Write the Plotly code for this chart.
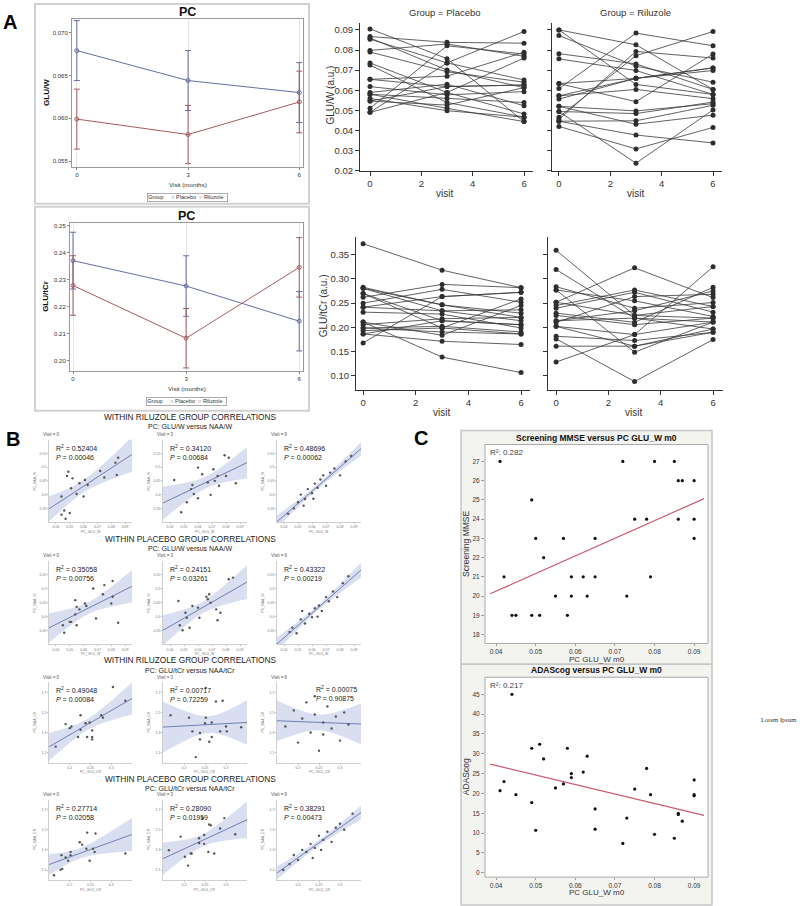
import numpy as np
import plotly.graph_objects as go

W, H = 800, 906
SANS = "Arial, Liberation Sans, Helvetica, sans-serif"
BLUE = "#646ea8"
RED = "#a65a60"

# ---------------- A (left): group means +/- SE
months = [0, 3, 6]
gluw_mean_placebo = [0.0679, 0.0644, 0.0630]
gluw_se_placebo = [0.0035, 0.0035, 0.0035]
gluw_mean_riluzole = [0.0599, 0.0581, 0.0619]
gluw_se_riluzole = [0.0035, 0.0034, 0.0036]
glutcr_mean_placebo = [0.2371, 0.2277, 0.2147]
glutcr_se_placebo = [0.0105, 0.0112, 0.0110]
glutcr_mean_riluzole = [0.2279, 0.2084, 0.2346]
glutcr_se_riluzole = [0.0110, 0.0110, 0.0110]

# ---------------- A (right): individual subjects at visit 0, 3, 6
visits = [0, 3, 6]
plc_gluw_v0 = [0.0905, 0.0867, 0.0854, 0.0860, 0.0798, 0.0790, 0.0736, 0.0725, 0.0654, 0.0654,
               0.0618, 0.0589, 0.0580, 0.0580, 0.0559, 0.0546, 0.0510, 0.0490, 0.0490, 0.0546]
plc_gluw_v3 = [0.0757, 0.0838, 0.0736, 0.0700, 0.0830, 0.0692, 0.0589, 0.0539, 0.0670, 0.0618,
               0.0577, 0.0630, 0.0559, 0.0510, 0.0498, 0.0526, 0.0821, 0.0736, 0.0589, 0.0618]
plc_gluw_v6 = [0.0444, 0.0834, 0.0651, 0.0613, 0.0769, 0.0640, 0.0482, 0.0466, 0.0789, 0.0626,
               0.0593, 0.0523, 0.0539, 0.0444, 0.0466, 0.0613, 0.0780, 0.0892, 0.0760, 0.0626]

ril_gluw_v0 = [0.0900, 0.0900, 0.0872, 0.0782, 0.0756, 0.0633, 0.0608, 0.0572, 0.0556, 0.0520,
               0.0494, 0.0466, 0.0455, 0.0446, 0.0420, 0.0446, 0.0494, 0.0520, 0.0633, 0.0572]
ril_gluw_v3 = [0.0826, 0.0629, 0.0720, 0.0731, 0.0698, 0.0659, 0.0884, 0.0659, 0.0659, 0.0497,
               0.0484, 0.0772, 0.0793, 0.0448, 0.0308, 0.0377, 0.0237, 0.0431, 0.0543, 0.0604]
ril_gluw_v6 = [0.0604, 0.0579, 0.0640, 0.0604, 0.0579, 0.0711, 0.0821, 0.0698, 0.0711, 0.0533,
               0.0541, 0.0892, 0.0760, 0.0525, 0.0415, 0.0338, 0.0502, 0.0476, 0.0780, 0.0558]

plc_glutcr_v0 = [0.3725, 0.2826, 0.2805, 0.2805, 0.2700, 0.2620, 0.2500, 0.2417, 0.2417, 0.2315,
                 0.2110, 0.2110, 0.2056, 0.1988, 0.1933, 0.1865, 0.1865, 0.1680, 0.1988, 0.2700]
plc_glutcr_v3 = [0.3180, 0.2465, 0.2342, 0.2465, 0.2137, 0.2887, 0.2785, 0.2635, 0.2342, 0.2274,
                 0.1838, 0.1388, 0.2179, 0.2022, 0.1988, 0.1715, 0.2137, 0.2635, 0.1906, 0.1988]
plc_glutcr_v6 = [0.2819, 0.2206, 0.2137, 0.2294, 0.2056, 0.2819, 0.2519, 0.2723, 0.2362, 0.1988,
                 0.2451, 0.1068, 0.2206, 0.1906, 0.1865, 0.1647, 0.2056, 0.2723, 0.1865, 0.2587]

ril_glutcr_v0 = [0.3589, 0.3193, 0.2839, 0.2771, 0.2519, 0.2451, 0.2396, 0.2294, 0.2247, 0.2137,
                 0.2104, 0.2022, 0.1817, 0.1763, 0.1613, 0.1286, 0.2771, 0.2519, 0.2137, 0.2022]
ril_glutcr_v3 = [0.2247, 0.2192, 0.2396, 0.2547, 0.3228, 0.2771, 0.2723, 0.2104, 0.2056, 0.2342,
                 0.2635, 0.1852, 0.1729, 0.0884, 0.1613, 0.1852, 0.1490, 0.2247, 0.2192, 0.1613]
ril_glutcr_v6 = [0.2192, 0.2110, 0.2512, 0.2226, 0.2614, 0.2430, 0.2315, 0.2826, 0.2192, 0.2751,
                 0.2683, 0.2110, 0.1899, 0.1749, 0.1967, 0.3248, 0.2110, 0.2430, 0.1967, 0.1899]

# ---------------- B: within-group correlations (GLU vs NAA)
r1c1_x = [0.044, 0.049, 0.052, 0.048, 0.051, 0.055, 0.057, 0.060, 0.061, 0.063, 0.072, 0.075,
          0.083, 0.085, 0.084, 0.044, 0.046, 0.050, 0.047]
r1c1_y = [0.393, 0.483, 0.459, 0.468, 0.423, 0.402, 0.441, 0.393, 0.453, 0.435, 0.486, 0.462,
          0.516, 0.534, 0.471, 0.327, 0.342, 0.333, 0.312]
r1c2_x = [0.043, 0.048, 0.052, 0.056, 0.057, 0.060, 0.060, 0.063, 0.067, 0.069, 0.071, 0.072,
          0.074, 0.075, 0.079, 0.082, 0.080, 0.087, 0.055]
r1c2_y = [0.453, 0.336, 0.372, 0.435, 0.402, 0.498, 0.387, 0.474, 0.444, 0.399, 0.492, 0.450,
          0.468, 0.432, 0.543, 0.534, 0.468, 0.441, 0.420]
r1c3_x = [0.043, 0.047, 0.050, 0.052, 0.055, 0.057, 0.060, 0.062, 0.064, 0.066, 0.068, 0.070,
          0.073, 0.076, 0.080, 0.084, 0.088, 0.054, 0.061]
r1c3_y = [0.330, 0.350, 0.372, 0.400, 0.384, 0.420, 0.405, 0.440, 0.425, 0.455, 0.470, 0.432,
          0.480, 0.495, 0.470, 0.520, 0.540, 0.360, 0.385]
r2c1_x = [0.045, 0.046, 0.050, 0.051, 0.054, 0.055, 0.054, 0.057, 0.061, 0.062, 0.055, 0.067,
          0.069, 0.074, 0.075, 0.081, 0.080, 0.081, 0.085]
r2c1_y = [0.369, 0.342, 0.381, 0.381, 0.459, 0.435, 0.408, 0.426, 0.447, 0.438, 0.369, 0.501,
          0.393, 0.480, 0.513, 0.471, 0.447, 0.528, 0.378]
r2c2_x = [0.047, 0.046, 0.049, 0.051, 0.052, 0.054, 0.056, 0.060, 0.061, 0.066, 0.068, 0.069,
          0.067, 0.073, 0.074, 0.076, 0.082, 0.085]
r2c2_y = [0.369, 0.456, 0.351, 0.414, 0.396, 0.360, 0.438, 0.432, 0.396, 0.471, 0.480, 0.450,
          0.462, 0.426, 0.387, 0.414, 0.534, 0.540]
r2c3_x = [0.044, 0.046, 0.049, 0.052, 0.055, 0.058, 0.060, 0.062, 0.065, 0.067, 0.070, 0.072,
          0.075, 0.078, 0.082, 0.086, 0.053, 0.064]
r2c3_y = [0.345, 0.360, 0.340, 0.390, 0.375, 0.410, 0.398, 0.430, 0.440, 0.420, 0.470, 0.455,
          0.490, 0.470, 0.520, 0.545, 0.420, 0.400]
r3c1_x = [0.304, 0.334, 0.276, 0.280, 0.226, 0.190, 0.204, 0.200, 0.226, 0.254, 0.220, 0.242,
          0.254, 0.254, 0.166, 0.238, 0.248]
r3c1_y = [1.752, 1.616, 1.472, 1.448, 1.472, 1.384, 1.360, 1.344, 1.328, 1.320, 1.256, 1.256,
          1.256, 1.232, 1.160, 1.392, 1.400]
r3c2_x = [0.168, 0.212, 0.252, 0.266, 0.250, 0.220, 0.238, 0.238, 0.260, 0.266, 0.286, 0.300,
          0.302, 0.336, 0.228, 0.252, 0.292, 0.276]
r3c2_y = [1.472, 1.448, 1.448, 1.400, 1.392, 1.312, 1.296, 1.232, 1.208, 1.256, 1.312, 1.360,
          1.312, 1.352, 1.056, 1.744, 1.616, 1.608]
r3c3_x = [0.170, 0.190, 0.200, 0.210, 0.220, 0.230, 0.240, 0.250, 0.260, 0.270, 0.280, 0.290,
          0.300, 0.310, 0.320, 0.240, 0.260]
r3c3_y = [1.36, 1.52, 1.20, 1.44, 1.60, 1.30, 1.48, 1.12, 1.40, 1.56, 1.34, 1.46, 1.22, 1.50,
          1.38, 1.66, 1.28]
r4c1_x = [0.162, 0.178, 0.182, 0.180, 0.190, 0.202, 0.196, 0.202, 0.224, 0.230, 0.240, 0.242,
          0.248, 0.256, 0.260, 0.262, 0.334]
r4c1_y = [1.048, 1.104, 1.112, 1.248, 1.224, 1.280, 1.192, 1.248, 1.376, 1.352, 1.312, 1.472,
          1.192, 1.312, 1.280, 1.464, 1.264]
r4c2_x = [0.164, 0.192, 0.202, 0.210, 0.216, 0.218, 0.236, 0.236, 0.248, 0.248, 0.244, 0.260,
          0.264, 0.258, 0.272, 0.286, 0.296, 0.322]
r4c2_y = [1.296, 1.432, 1.232, 1.144, 1.264, 1.264, 1.416, 1.368, 1.360, 1.448, 1.616, 1.552,
          1.544, 1.280, 1.264, 1.512, 1.616, 1.456]
r4c3_x = [0.165, 0.180, 0.190, 0.200, 0.210, 0.220, 0.230, 0.240, 0.250, 0.260, 0.270, 0.280,
          0.290, 0.300, 0.310, 0.330, 0.235, 0.255]
r4c3_y = [1.10, 1.16, 1.25, 1.20, 1.30, 1.28, 1.36, 1.32, 1.44, 1.40, 1.48, 1.38, 1.52, 1.56,
          1.50, 1.66, 1.22, 1.30]

r2_text = ["0.52404", "0.34120", "0.48696", "0.35058", "0.24151", "0.43322",
           "0.49048", "0.00717", "0.00075", "0.27714", "0.28090", "0.38291"]
p_text = ["0.00046", "0.00684", "0.00062", "0.00756", "0.03261", "0.00219",
          "0.00084", "0.72259", "0.90875", "0.02058", "0.01959", "0.00473"]
b_headers = ["WITHIN RILUZOLE GROUP CORRELATIONS", "WITHIN PLACEBO GROUP CORRELATIONS",
             "WITHIN RILUZOLE GROUP CORRELATIONS", "WITHIN PLACEBO GROUP CORRELATIONS"]
b_subheaders = ["PC: GLU/W versus NAA/W", "PC: GLU/W versus NAA/W",
                "PC: GLU/tCr versus NAA/tCr", "PC: GLU/tCr versus NAA/tCr"]
b_visits = ["Visit = 0", "Visit = 3", "Visit = 6"]

# ---------------- C: clinical scores vs baseline GLU/W
c_glu_w_m0 = [0.041, 0.042, 0.044, 0.045, 0.049, 0.049, 0.050, 0.051, 0.052, 0.055, 0.057,
              0.058, 0.059, 0.059, 0.062, 0.063, 0.065, 0.065, 0.072, 0.073, 0.075, 0.078,
              0.079, 0.080, 0.085, 0.086, 0.087, 0.086, 0.090, 0.090, 0.090]
c_mmse = [27, 21, 19, 19, 25, 19, 23, 19, 22, 20, 23, 19, 21, 20, 21, 20, 23, 21, 27, 20, 24,
          24, 21, 27, 27, 26, 26, 24, 26, 24, 23]
c_glu_w_m0_ad = [0.041, 0.042, 0.044, 0.045, 0.049, 0.049, 0.050, 0.051, 0.052, 0.055, 0.057,
                 0.058, 0.059, 0.059, 0.062, 0.063, 0.065, 0.065, 0.072, 0.073, 0.075, 0.078,
                 0.079, 0.080, 0.085, 0.086, 0.086, 0.087, 0.090, 0.090, 0.090]
c_adascog = [20.7, 23.0, 45.0, 19.7, 31.4, 17.7, 10.7, 32.4, 28.7, 21.4, 22.4, 31.4, 25.0,
             24.0, 25.4, 29.4, 16.1, 11.0, 7.4, 13.8, 21.1, 26.3, 19.7, 9.7, 8.7, 15.0, 14.7,
             13.0, 23.4, 19.7, 19.4]

# ================================================================ helpers
layout = {}
traces = []
ann = []
shapes = []
n_ax = [0]


def axes(x0, x1, y0, y1, xa, ya):
    n_ax[0] += 1
    k = "" if n_ax[0] == 1 else str(n_ax[0])
    layout["xaxis" + k] = dict(domain=[x0 / W, x1 / W], anchor="y" + k, zeroline=False, **xa)
    layout["yaxis" + k] = dict(domain=[1 - y1 / H, 1 - y0 / H], anchor="x" + k, zeroline=False, **ya)
    return "x" + k, "y" + k


def text(x, y, s, size, bold=False, angle=0, xanchor="center", yanchor="middle",
         color="#222", family=SANS, **kw):
    if bold:
        s = "<b>%s</b>" % s
    ann.append(dict(x=x / W, y=1 - y / H, xref="paper", yref="paper", text=s, showarrow=False,
                    font=dict(size=size, color=color, family=family), textangle=angle,
                    xanchor=xanchor, yanchor=yanchor, **kw))


def rect(x0, y0, x1, y1, line="#ccc", lw=1, fill="rgba(0,0,0,0)"):
    shapes.append(dict(type="rect", xref="paper", yref="paper", x0=x0 / W, x1=x1 / W,
                       y0=1 - y1 / H, y1=1 - y0 / H, line=dict(color=line, width=lw),
                       fillcolor=fill, layer="below"))


def fit_band(x, y, lo, hi):
    x = np.asarray(x, float)
    y = np.asarray(y, float)
    b, a = np.polyfit(x, y, 1)
    xs = np.linspace(lo, hi, 60)
    yh = a + b * xs
    n = len(x)
    s = np.sqrt(np.sum((y - (a + b * x)) ** 2) / (n - 2))
    sxx = np.sum((x - x.mean()) ** 2)
    se = s * np.sqrt(1 / n + (xs - x.mean()) ** 2 / sxx)
    return xs, yh, yh - 2.11 * se, yh + 2.11 * se


# ================================================================ A left
rect(35, 4, 309, 205, line="#d2d2d2", lw=2)
rect(35, 208, 309, 413, line="#d2d2d2", lw=2)

sas_x = dict(tickvals=months, ticks="outside", ticklen=2, tickcolor="#888",
             tickfont=dict(size=6, family=SANS, color="#333"), showgrid=True, gridcolor="#e6e6e6",
             showline=True, mirror=True, linecolor="#9a9a9a", linewidth=1)
sas_y = dict(ticks="outside", ticklen=2, tickcolor="#888", tickfont=dict(size=6, family=SANS, color="#333"),
             showgrid=False, showline=True, mirror=True, linecolor="#9a9a9a", linewidth=1)

left_panels = [
    ((72, 303, 19, 168), [-0.13, 6.1], [0.0543, 0.0716], [0.055, 0.06, 0.065, 0.07], ".3f",
     (gluw_mean_placebo, gluw_se_placebo, gluw_mean_riluzole, gluw_se_riluzole), "GLU/W", 47, 12),
    ((70, 303, 224, 373), [-0.08, 6.1], [0.1963, 0.2511], [0.20, 0.21, 0.22, 0.23, 0.24, 0.25], ".2f",
     (glutcr_mean_placebo, glutcr_se_placebo, glutcr_mean_riluzole, glutcr_se_riluzole), "GLU/tCr", 46, 217),
]
for (x0, x1, y0, y1), xr, yr, yt, yf, (mp, sp, mr, sr), ytitle, ytx, title_y in left_panels:
    xa, ya = axes(x0, x1, y0, y1, dict(range=xr, **sas_x), dict(range=yr, tickvals=yt, tickformat=yf, **sas_y))
    for mean, se, col in [(mp, sp, BLUE), (mr, sr, RED)]:
        traces.append(go.Scatter(x=months, y=mean, xaxis=xa, yaxis=ya, mode="lines+markers",
                                 line=dict(color=col, width=1),
                                 marker=dict(symbol="circle-open", size=4, color=col),
                                 error_y=dict(type="data", array=se, color=col, thickness=1, width=3),
                                 showlegend=False))
    text((x0 + x1) / 2, title_y, "PC", 12.5, bold=True, color="#111")
    text(ytx, (y0 + y1) / 2, ytitle, 8, bold=True, angle=-90, color="#111")
    text((x0 + x1) / 2, y1 + 18, "Visit (months)", 6.2, color="#333")
    text((x0 + x1) / 2, y1 + 31,
         "Group &nbsp;&nbsp;&nbsp; <span style='color:%s'>○</span> Placebo &nbsp;"
         "<span style='color:%s'>○</span> Riluzole &nbsp;" % (BLUE, RED),
         5.5, color="#333", bordercolor="#999", borderwidth=0.8, borderpad=0.5)

# ================================================================ A right
sp_x = dict(tickvals=[0, 2, 4, 6], ticks="outside", ticklen=4, tickcolor="#333", showline=True,
            linecolor="#333", linewidth=1, showgrid=False, tickfont=dict(size=9.5, family=SANS, color="#333"))
sp_y = dict(ticks="outside", ticklen=4, tickcolor="#333", showline=True, linecolor="#333",
            linewidth=1, showgrid=False, tickfont=dict(size=9.5, family=SANS, color="#333"))

gluw_ticks = [0.02, 0.03, 0.04, 0.05, 0.06, 0.07, 0.08, 0.09]
glutcr_ticks = [0.10, 0.15, 0.20, 0.25, 0.30, 0.35]
right_panels = [
    ((360, 533, 23, 172), [-0.39, 6.35], [0.0198, 0.0935], gluw_ticks, True,
     (plc_gluw_v0, plc_gluw_v3, plc_gluw_v6), "Group = Placebo"),
    ((552, 722, 23, 172), [-0.27, 6.35], [0.0198, 0.0935], gluw_ticks, False,
     (ril_gluw_v0, ril_gluw_v3, ril_gluw_v6), "Group = Riluzole"),
    ((356, 530, 238, 392), [-0.27, 6.34], [0.0713, 0.387], glutcr_ticks, True,
     (plc_glutcr_v0, plc_glutcr_v3, plc_glutcr_v6), None),
    ((548, 723, 238, 392), [-0.31, 6.38], [0.0713, 0.387], glutcr_ticks, False,
     (ril_glutcr_v0, ril_glutcr_v3, ril_glutcr_v6), None),
]
for (x0, x1, y0, y1), xr, yr, yt, labels, (a, b, c), title in right_panels:
    xa, ya = axes(x0, x1, y0, y1, dict(range=xr, **sp_x),
                  dict(range=yr, tickvals=yt, tickformat=".2f", showticklabels=labels, **sp_y))
    xs, ys = [], []
    for p, q, r in zip(a, b, c):
        xs += visits + [None]
        ys += [p, q, r, None]
    traces.append(go.Scatter(x=xs, y=ys, xaxis=xa, yaxis=ya, mode="lines+markers",
                             line=dict(color="#3a3a3a", width=0.8),
                             marker=dict(size=5, color="#2e2e2e"), showlegend=False))
    if title:
        text((x0 + x1) / 2 - 2, 13, title, 9.5, color="#333")
    text((x0 + x1) / 2 - 2, y1 + 23, "visit", 10, color="#333")

text(330, 96, "GLU/W (a.u.)", 10, angle=-90, color="#333")
text(323, 308, "GLU/tCr (a.u.)", 10, angle=-90, color="#333")

# ================================================================ B
b_rows = [(442, 525), (564, 648), (686, 767), (804, 885)]
b_cols = [(49, 132), (163, 247), (277, 361)]
b_head = [(419, 429), (542, 552), (664, 674), (783, 793)]
b_data = [(r1c1_x, r1c1_y), (r1c2_x, r1c2_y), (r1c3_x, r1c3_y),
          (r2c1_x, r2c1_y), (r2c2_x, r2c2_y), (r2c3_x, r2c3_y),
          (r3c1_x, r3c1_y), (r3c2_x, r3c2_y), (r3c3_x, r3c3_y),
          (r4c1_x, r4c1_y), (r4c2_x, r4c2_y), (r4c3_x, r4c3_y)]

tiny = dict(size=3.5, family=SANS, color="#777")
for ri, (y0, y1) in enumerate(b_rows):
    text(190, b_head[ri][0], b_headers[ri], 8.3, color="#222")
    text(190, b_head[ri][1], b_subheaders[ri], 7, color="#222")
    if ri < 2:
        xr, yr = [0.035, 0.095], [0.30, 0.60]
        xt, yt = [0.04, 0.05, 0.06, 0.07, 0.08, 0.09], [0.35, 0.40, 0.45, 0.50, 0.55]
        xlab, ylab = "PC_GLU_W", "PC_NAA_W"
    else:
        xr, yr = [0.15, 0.35], [1.0, 1.8]
        xt, yt = [0.20, 0.25, 0.30], [1.1, 1.3, 1.5, 1.7]
        xlab, ylab = "PC_GLU_CR", "PC_NAA_CR"
    for ci, (x0, x1) in enumerate(b_cols):
        k = ri * 3 + ci
        bx, by = b_data[k]
        xa, ya = axes(x0, x1, y0, y1,
                      dict(range=xr, tickvals=xt, ticks="outside", ticklen=1, tickcolor="#bbb",
                           tickfont=tiny, showline=True, linecolor="#cfcfcf", linewidth=0.8, showgrid=False),
                      dict(range=yr, tickvals=yt, ticks="outside", ticklen=1, tickcolor="#bbb",
                           tickfont=tiny, showline=True, linecolor="#cfcfcf", linewidth=0.8, showgrid=False))
        xs, yh, lo, hi = fit_band(bx, by, xr[0], xr[1])
        traces.append(go.Scatter(x=list(xs) + list(xs[::-1]), y=list(hi) + list(lo[::-1]),
                                 xaxis=xa, yaxis=ya, fill="toself", mode="none",
                                 fillcolor="rgba(170,185,225,0.45)", showlegend=False, hoverinfo="skip"))
        traces.append(go.Scatter(x=xs, y=yh, xaxis=xa, yaxis=ya, mode="lines",
                                 line=dict(color="#6373ab", width=0.9), showlegend=False))
        traces.append(go.Scatter(x=bx, y=by, xaxis=xa, yaxis=ya, mode="markers",
                                 marker=dict(size=2.4, color="#555"), showlegend=False))
        text(x0 - 8, y0 - 5, b_visits[ci], 4.5, xanchor="left", color="#555")
        text((x0 + x1) / 2, y1 + 9.5, xlab, 3.5, color="#777")
        text(x0 - 14, (y0 + y1) / 2, ylab, 3.5, angle=-90, color="#777")
        rt = "R<sup>2</sup> = %s<br><i>P</i> = %s" % (r2_text[k], p_text[k])
        if k == 8:
            text(x1 - 2, y0 + 1, rt, 7, xanchor="right", yanchor="top", align="left", color="#222")
        else:
            text(x0 + 5, y0 + 2, rt, 7, xanchor="left", yanchor="top", align="left", color="#222")

# ================================================================ C
rect(461, 433, 712, 668, line="#c6c6c6", lw=1.5, fill="#f3f3f0")
rect(461, 668, 712, 910, line="#c6c6c6", lw=1.5, fill="#f3f3f0")
c_panels = [
    ((485, 708, 447, 647), [17.54, 27.88], list(range(18, 28)), c_glu_w_m0, c_mmse,
     "Screening MMSE versus PC GLU_W m0", "Screening MMSE", "0.282", 440, 663),
    ((485, 708, 681, 882), [-1.1, 49.3], list(range(0, 50, 5)), c_glu_w_m0_ad, c_adascog,
     "ADAScog versus PC GLU_W m0", "ADAScog", "0.217", 674, 897),
]
c_xr = [0.0372, 0.0935]
for (x0, x1, y0, y1), yr, yt, cx, cy, title, ytitle, r2, ty, xty in c_panels:
    rect(x0, y0, x1, y1, line="#a9a9a9", lw=1, fill="#ffffff")
    xa, ya = axes(x0, x1, y0, y1,
                  dict(range=c_xr, tickvals=[0.04, 0.05, 0.06, 0.07, 0.08, 0.09], tickformat=".2f",
                       ticks="outside", ticklen=2, tickcolor="#999",
                       tickfont=dict(size=6.5, family=SANS, color="#333"), showgrid=False),
                  dict(range=yr, tickvals=yt, ticks="outside", ticklen=3, tickcolor="#999",
                       tickfont=dict(size=6.5, family=SANS, color="#333"), showgrid=False))
    b, a = np.polyfit(cx, cy, 1)
    lx = np.array([0.0385, 0.0925])
    traces.append(go.Scatter(x=lx, y=a + b * lx, xaxis=xa, yaxis=ya, mode="lines",
                             line=dict(color="#cc5a74", width=1.2), showlegend=False))
    traces.append(go.Scatter(x=cx, y=cy, xaxis=xa, yaxis=ya, mode="markers",
                             marker=dict(size=3.2, color="#111"), showlegend=False))
    text((x0 + x1) / 2, ty, title, 8.5, bold=True, color="#111")
    text(x0 + 3, y0 + 8, "R²: " + r2, 8, xanchor="left", color="#444")
    text(466, (y0 + y1) / 2, ytitle, 8.5, angle=-90, color="#333")
    text((x0 + x1) / 2, xty, "PC GLU_W m0", 8, color="#333")

text(798, 723, "Lorem Ipsum", 6.5, xanchor="right", color="#333",
     family="Liberation Serif, Times New Roman, serif")

# ================================================================ panel letters
text(10, 22, "A", 20, bold=True, color="#000")
text(13, 441, "B", 20, bold=True, color="#000")
text(421, 440, "C", 20, bold=True, color="#000")

fig = go.Figure(data=traces)
fig.update_layout(**layout)
fig.update_layout(width=W, height=H, margin=dict(l=0, r=0, t=0, b=0),
                  paper_bgcolor="white", plot_bgcolor="rgba(0,0,0,0)",
                  font=dict(family=SANS), annotations=ann, shapes=shapes, showlegend=False)
fig.write_html("out.html", config={"displayModeBar": False},
               post_script="document.body.style.margin='0';document.body.style.overflow='hidden';")
